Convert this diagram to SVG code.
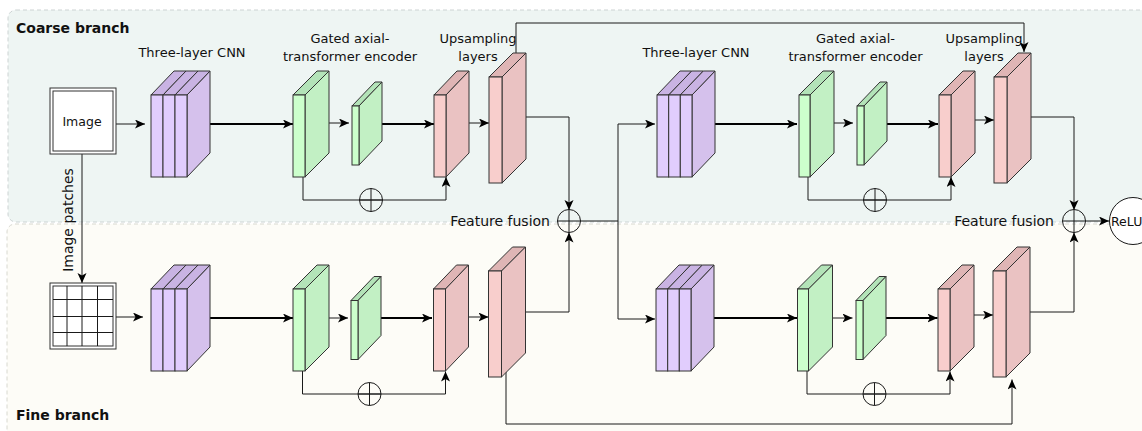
<svg xmlns="http://www.w3.org/2000/svg" width="1142" height="431" viewBox="0 0 1142 431">
<style>
.t{font-family:"DejaVu Sans",Verdana,sans-serif;fill:#111}
.b{font-weight:bold;font-size:14px}
.l13{font-size:13px;text-anchor:middle}
.e{fill:none;stroke:#1a1a1a;stroke-width:1;marker-end:url(#a)}
.e2{fill:none;stroke:#000;stroke-width:2;marker-end:url(#a)}
.ln{fill:none;stroke:#1a1a1a;stroke-width:1}
.pf{fill:#e1cdfd;stroke:#333;stroke-width:1}
.pt{fill:#c9b3e3;stroke:#333;stroke-width:1}
.ps{fill:#d5c1ec;stroke:#333;stroke-width:1}
.gf{fill:#ccffcc;stroke:#333;stroke-width:1}
.gt{fill:#b3e3b8;stroke:#333;stroke-width:1}
.gs{fill:#c2f0c4;stroke:#333;stroke-width:1}
.rf{fill:#f8cecc;stroke:#333;stroke-width:1}
.rt{fill:#dfb5b5;stroke:#333;stroke-width:1}
.rs{fill:#eac2c2;stroke:#333;stroke-width:1}
.op{fill:none;stroke:#1a1a1a;stroke-width:1}
</style>
<defs>
<marker id="a" markerUnits="userSpaceOnUse" markerWidth="12" markerHeight="10" refX="10" refY="4.5" orient="auto">
<path d="M0,0 L10,4.5 L0,9 L2.5,4.5 Z" fill="#000"/>
</marker>
</defs>

<g id="backgrounds">
<rect x="8" y="10" width="1150" height="212" rx="8" fill="#eef5f3" stroke="#ccd3d3" stroke-dasharray="4 3"/>
<rect x="7" y="224" width="1150" height="215" rx="8" fill="#fdfcf7" stroke="#d8d8d0" stroke-dasharray="4 3"/>
<text class="t b" x="16" y="33">Coarse branch</text>
<text class="t b" x="16" y="420">Fine branch</text>
</g>

<g id="connectors">
<path class="e" d="M116,124 H145"/>
<path class="e" d="M82,154 V283"/>
<path class="e" d="M116,317 H143"/>
<path class="e2" d="M210,124 H293"/>
<path class="e" d="M329,123 H349"/>
<path class="e2" d="M382,124 H434"/>
<path class="e" d="M469,123 H489"/>
<path class="e" d="M303,177 V200 H446 V177"/>
<path class="e" d="M526,117 H569 V210"/>
<path class="e" d="M516,53 V23 H1024 V52"/>
<path class="ln" d="M580.5,221 H618"/>
<path class="e" d="M618,221 V124 H655"/>
<path class="e" d="M618,221 V319 H655"/>
<path class="e2" d="M715,124 H797"/>
<path class="e" d="M834,123 H853"/>
<path class="e2" d="M887,124 H938"/>
<path class="e" d="M975,120 H994"/>
<path class="e" d="M808,177 V200 H951 V177"/>
<path class="e" d="M1031,117 H1074 V210"/>
<path class="e" d="M1085.5,221 H1109"/>
<path class="e2" d="M210,318 H293"/>
<path class="e" d="M329,318 H348"/>
<path class="e2" d="M381,318 H432"/>
<path class="e" d="M468.5,317 H488.5"/>
<path class="e" d="M302.5,371 V394 H445.5 V371.5"/>
<path class="e" d="M525,312 H569 V232.5"/>
<path class="e" d="M506,372 V424 H1012 V379.5"/>
<path class="e2" d="M714,318 H797"/>
<path class="e" d="M832.5,318 H852.5"/>
<path class="e2" d="M886,318 H937.5"/>
<path class="e" d="M974,315 H993"/>
<path class="e" d="M807,371 V394 H950 V371.5"/>
<path class="e" d="M1030,312 H1074 V232.5"/>
</g>

<g id="image">
<rect x="50" y="88" width="66" height="66" fill="#fff" stroke="#333"/>
<rect x="53" y="91" width="60" height="60" fill="#fff" stroke="#333"/>
<text class="t" x="82" y="125.5" font-size="12.5" text-anchor="middle">Image</text>
</g>

<g id="image-patches-label">
<text class="t" font-size="14" text-anchor="middle" transform="translate(73,220) rotate(-90)">Image patches</text>
</g>

<g id="patches">
<rect x="50" y="283" width="66" height="66" fill="#fff" stroke="#333"/>
<rect x="53" y="286" width="60" height="60" fill="#fff" stroke="#333"/>
<path class="ln" d="M67,286 V346 M82,286 V346 M97.5,286 V346 M53,299.5 H113 M53,316.5 H113 M53,332.5 H113"/>
</g>

<g id="cnn-coarse-1">
<polygon class="ps" points="187,95 210,71 210,153 187,177"/>
<polygon class="pt" points="151,95 163,95 186,71 174,71"/>
<polygon class="pt" points="163,95 175,95 198,71 186,71"/>
<polygon class="pt" points="175,95 187,95 210,71 198,71"/>
<rect class="pf" x="151" y="95" width="12" height="82"/>
<rect class="pf" x="163" y="95" width="12" height="82"/>
<rect class="pf" x="175" y="95" width="12" height="82"/>
</g>
<text class="t l13" x="192" y="57">Three-layer CNN</text>

<g id="enc-coarse-1a">
<polygon class="gt" points="293,95 305,95 329,71 317,71"/>
<polygon class="gs" points="305,95 329,71 329,153 305,177"/>
<rect class="gf" x="293" y="95" width="12" height="82"/>
</g>
<g id="enc-coarse-1b">
<polygon class="gt" points="352,106 359,106 382,82 375,82"/>
<polygon class="gs" points="359,106 382,82 382,141 359,165"/>
<rect class="gf" x="352" y="106" width="7" height="59"/>
</g>
<text class="t l13" x="350" y="43">Gated axial-</text>
<text class="t l13" x="350" y="61">transformer encoder</text>

<g id="up-coarse-1a">
<polygon class="rt" points="434,95 446,95 469,71 457,71"/>
<polygon class="rs" points="446,95 469,71 469,153 446,177"/>
<rect class="rf" x="434" y="95" width="12" height="82"/>
</g>
<g id="up-coarse-1b">
<polygon class="rt" points="489,77 502,77 526,53 513,53"/>
<polygon class="rs" points="502,77 526,53 526,159 502,183"/>
<rect class="rf" x="489" y="77" width="13" height="106"/>
</g>
<text class="t l13" x="478" y="43">Upsampling</text>
<text class="t l13" x="478" y="61">layers</text>

<g id="skip-coarse-1">
<circle class="op" cx="371" cy="200" r="11.5"/>
<path class="ln" d="M359.5,200 H382.5 M371,188.5 V211.5"/>
</g>

<g id="fusion-1">
<circle class="op" cx="569" cy="221" r="11.5"/>
<path class="ln" d="M557.5,221 H580.5 M569,209.5 V232.5"/>
<text class="t" x="550" y="226" font-size="14" text-anchor="end">Feature fusion</text>
</g>

<g id="cnn-coarse-2">
<polygon class="ps" points="692,95 715,71 715,153 692,177"/>
<polygon class="pt" points="657,95 668.7,95 691.7,71 680,71"/>
<polygon class="pt" points="668.7,95 680.3,95 703.3,71 691.7,71"/>
<polygon class="pt" points="680.3,95 692,95 715,71 703.3,71"/>
<rect class="pf" x="657" y="95" width="11.7" height="82"/>
<rect class="pf" x="668.7" y="95" width="11.6" height="82"/>
<rect class="pf" x="680.3" y="95" width="11.7" height="82"/>
</g>
<text class="t l13" x="696" y="57">Three-layer CNN</text>

<g id="enc-coarse-2a">
<polygon class="gt" points="799,95 810,95 834,71 823,71"/>
<polygon class="gs" points="810,95 834,71 834,153 810,177"/>
<rect class="gf" x="799" y="95" width="11" height="82"/>
</g>
<g id="enc-coarse-2b">
<polygon class="gt" points="857,106 864,106 887,82 880,82"/>
<polygon class="gs" points="864,106 887,82 887,141 864,165"/>
<rect class="gf" x="857" y="106" width="7" height="59"/>
</g>
<text class="t l13" x="855.5" y="43">Gated axial-</text>
<text class="t l13" x="855.5" y="61">transformer encoder</text>

<g id="up-coarse-2a">
<polygon class="rt" points="939,95 951,95 975,71 963,71"/>
<polygon class="rs" points="951,95 975,71 975,153 951,177"/>
<rect class="rf" x="939" y="95" width="12" height="82"/>
</g>
<g id="up-coarse-2b">
<polygon class="rt" points="994,77 1007,77 1031,53 1018,53"/>
<polygon class="rs" points="1007,77 1031,53 1031,159 1007,183"/>
<rect class="rf" x="994" y="77" width="13" height="106"/>
</g>
<text class="t l13" x="984" y="43">Upsampling</text>
<text class="t l13" x="984" y="61">layers</text>

<g id="skip-coarse-2">
<circle class="op" cx="875" cy="200" r="11.5"/>
<path class="ln" d="M863.5,200 H886.5 M875,188.5 V211.5"/>
</g>

<g id="fusion-2">
<circle class="op" cx="1074" cy="221" r="11.5"/>
<path class="ln" d="M1062.5,221 H1085.5 M1074,209.5 V232.5"/>
<text class="t" x="1054" y="226" font-size="14" text-anchor="end">Feature fusion</text>
</g>

<g id="relu">
<circle cx="1133" cy="221" r="23.5" fill="#fff" stroke="#1a1a1a"/>
<text class="t" x="1111" y="225.5" font-size="12.5">ReLU</text>
</g>

<g id="cnn-fine-1" transform="translate(0,194)">
<polygon class="ps" points="187,95 210,71 210,153 187,177"/>
<polygon class="pt" points="151,95 163,95 186,71 174,71"/>
<polygon class="pt" points="163,95 175,95 198,71 186,71"/>
<polygon class="pt" points="175,95 187,95 210,71 198,71"/>
<rect class="pf" x="151" y="95" width="12" height="82"/>
<rect class="pf" x="163" y="95" width="12" height="82"/>
<rect class="pf" x="175" y="95" width="12" height="82"/>
</g>

<g id="enc-fine-1a" transform="translate(0,194)">
<polygon class="gt" points="293,95 305,95 329,71 317,71"/>
<polygon class="gs" points="305,95 329,71 329,153 305,177"/>
<rect class="gf" x="293" y="95" width="12" height="82"/>
</g>
<g id="enc-fine-1b" transform="translate(-1,194.5)">
<polygon class="gt" points="352,106 359,106 382,82 375,82"/>
<polygon class="gs" points="359,106 382,82 382,141 359,165"/>
<rect class="gf" x="352" y="106" width="7" height="59"/>
</g>

<g id="up-fine-1a" transform="translate(-0.5,194)">
<polygon class="rt" points="434,95 446,95 469,71 457,71"/>
<polygon class="rs" points="446,95 469,71 469,153 446,177"/>
<rect class="rf" x="434" y="95" width="12" height="82"/>
</g>
<g id="up-fine-1b" transform="translate(-0.5,194)">
<polygon class="rt" points="489,77 502,77 526,53 513,53"/>
<polygon class="rs" points="502,77 526,53 526,159 502,183"/>
<rect class="rf" x="489" y="77" width="13" height="106"/>
</g>

<g id="skip-fine-1">
<circle class="op" cx="369.5" cy="394" r="11.5"/>
<path class="ln" d="M358,394 H381 M369.5,382.5 V405.5"/>
</g>

<g id="cnn-fine-2" transform="translate(-1,194)">
<polygon class="ps" points="692,95 715,71 715,153 692,177"/>
<polygon class="pt" points="657,95 668.7,95 691.7,71 680,71"/>
<polygon class="pt" points="668.7,95 680.3,95 703.3,71 691.7,71"/>
<polygon class="pt" points="680.3,95 692,95 715,71 703.3,71"/>
<rect class="pf" x="657" y="95" width="11.7" height="82"/>
<rect class="pf" x="668.7" y="95" width="11.6" height="82"/>
<rect class="pf" x="680.3" y="95" width="11.7" height="82"/>
</g>

<g id="enc-fine-2a" transform="translate(-1.5,194)">
<polygon class="gt" points="799,95 810,95 834,71 823,71"/>
<polygon class="gs" points="810,95 834,71 834,153 810,177"/>
<rect class="gf" x="799" y="95" width="11" height="82"/>
</g>
<g id="enc-fine-2b" transform="translate(-1,194.5)">
<polygon class="gt" points="857,106 864,106 887,82 880,82"/>
<polygon class="gs" points="864,106 887,82 887,141 864,165"/>
<rect class="gf" x="857" y="106" width="7" height="59"/>
</g>

<g id="up-fine-2a" transform="translate(-1,194)">
<polygon class="rt" points="939,95 951,95 975,71 963,71"/>
<polygon class="rs" points="951,95 975,71 975,153 951,177"/>
<rect class="rf" x="939" y="95" width="12" height="82"/>
</g>
<g id="up-fine-2b" transform="translate(-1,194)">
<polygon class="rt" points="994,77 1007,77 1031,53 1018,53"/>
<polygon class="rs" points="1007,77 1031,53 1031,159 1007,183"/>
<rect class="rf" x="994" y="77" width="13" height="106"/>
</g>

<g id="skip-fine-2">
<circle class="op" cx="874.5" cy="394" r="11.5"/>
<path class="ln" d="M863,394 H886 M874.5,382.5 V405.5"/>
</g>
</svg>
